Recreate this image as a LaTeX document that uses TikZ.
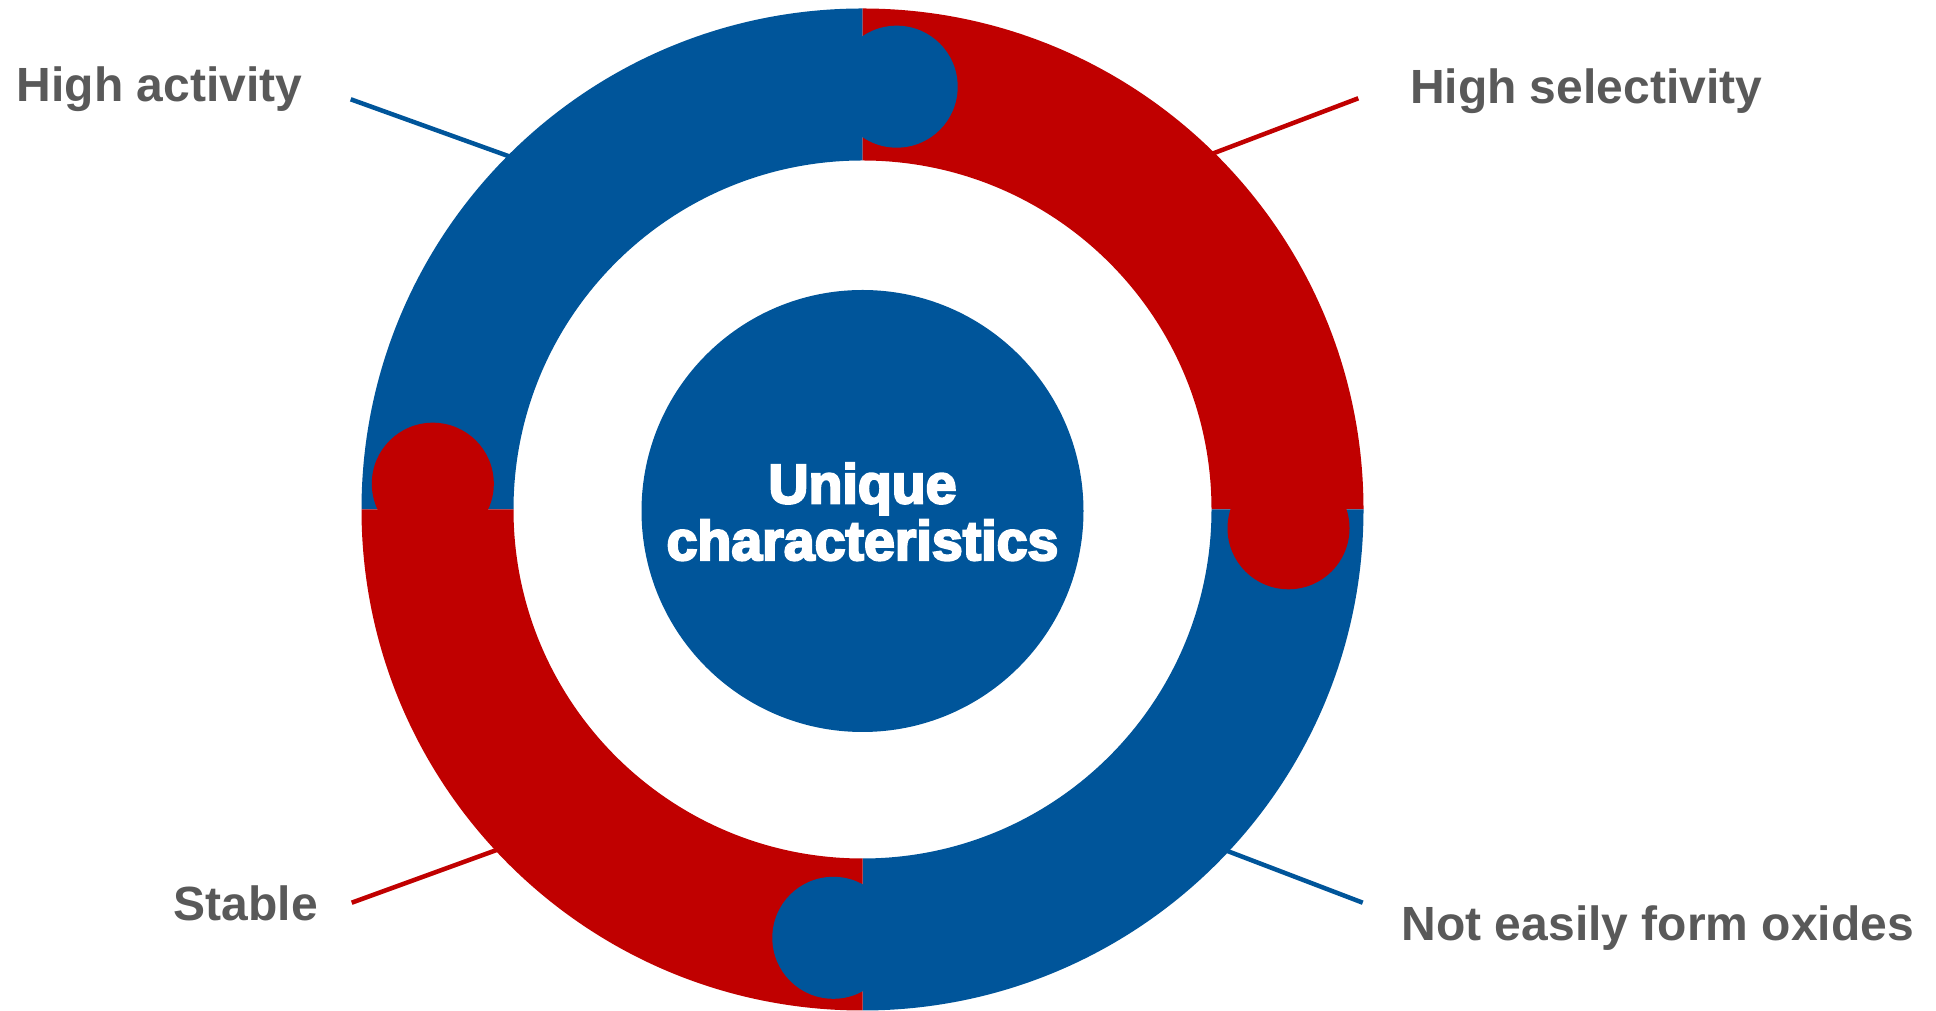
\documentclass[tikz,border=0pt]{standalone}
\usepackage{fontspec}
\setmainfont{Liberation Sans}
\newfontfamily\heavyfont{Liberation Sans}[BoldFeatures={FakeBold=4}]
\usetikzlibrary{calc}
\definecolor{ringblue}{HTML}{00559A}
\definecolor{ringred}{HTML}{C00000}
\definecolor{labgray}{HTML}{595959}
\begin{document}
\begin{tikzpicture}[x=1pt,y=1pt,
  lab/.style={inner sep=0pt, anchor=base west, text=labgray, font=\fontsize{48}{58}\selectfont\bfseries},
  ctext/.style={inner sep=0pt, anchor=base, text=white, font=\heavyfont\bfseries\fontsize{55.5}{60}\selectfont},
  leader/.style={line width=4.5pt},
  knob/.style={circle, inner sep=0pt, minimum size=122pt}]
\useasboundingbox (0,0) rectangle (1936,1011);
\coordinate (c) at (862.5,501.5);

% leader lines (drawn first, the ring covers their inner ends)
\coordinate (haO) at (350.7,911.7);  \coordinate (haI) at (560,836.3);
\coordinate (hsO) at (1358.3,912.7); \coordinate (hsI) at (1170,841.2);
\coordinate (stO) at (351.7,108.3);  \coordinate (stI) at (546.7,179.2);
\coordinate (neO) at (1362.7,108.3); \coordinate (neI) at (1180,178.1);
\draw[leader, ringblue] (haO) -- (haI);
\draw[leader, ringred]  (hsO) -- (hsI);
\draw[leader, ringred]  (stO) -- (stI);
\draw[leader, ringblue] (neO) -- (neI);

% ring quadrants
\fill[ringblue] ($(c)+(0,501)$) arc[start angle=90,end angle=180,radius=501]
  -- ($(c)+(-349,0)$) arc[start angle=180,end angle=90,radius=349] -- cycle;
\fill[ringred] ($(c)+(501,0)$) arc[start angle=0,end angle=90,radius=501]
  -- ($(c)+(0,349)$) arc[start angle=90,end angle=0,radius=349] -- cycle;
\fill[ringblue] ($(c)+(0,-501)$) arc[start angle=270,end angle=360,radius=501]
  -- ($(c)+(349,0)$) arc[start angle=360,end angle=270,radius=349] -- cycle;
\fill[ringred] ($(c)+(-501,0)$) arc[start angle=180,end angle=270,radius=501]
  -- ($(c)+(0,-349)$) arc[start angle=270,end angle=180,radius=349] -- cycle;

% knobs
\node[knob, fill=ringblue] (ktop) at (896.7,924.3) {};
\node[knob, fill=ringred]  (kright) at (1288.5,482.7) {};
\node[knob, fill=ringblue] (kbottom) at (833.3,73.2) {};
\node[knob, fill=ringred]  (kleft) at (432.8,527.3) {};

% core
\node[circle, fill=ringblue, inner sep=0pt, minimum size=442pt] (core) at (862.5,500) {};
\node[ctext] (t1) at (862.5,507.7) {Unique};
\node[ctext] (t2) at (862.5,451) {characteristics};

% labels
\node[lab] (ha) at (16.5,909.3) {High activity};
\node[lab] (hs) at (1409.8,907.7) {High selectivity};
\node[lab] (st) at (173.6,90.3) {Stable};
\node[lab] (ne) at (1401.5,70.3) {Not easily form oxides};
\end{tikzpicture}
\end{document}
